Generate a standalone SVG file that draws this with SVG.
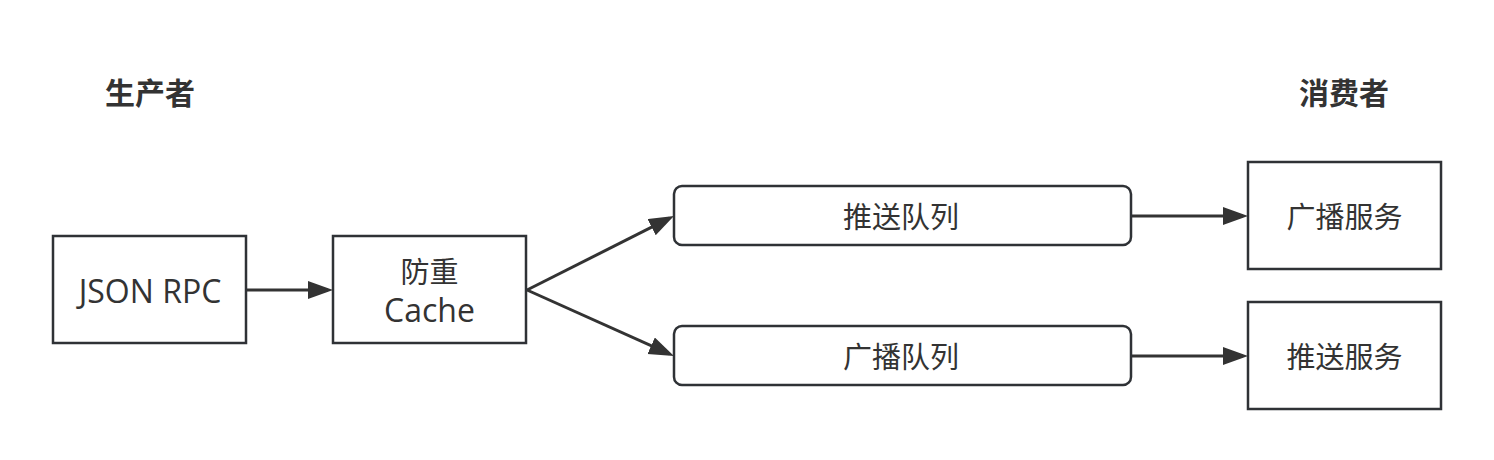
<svg xmlns="http://www.w3.org/2000/svg" width="1494" height="460" viewBox="0 0 1494 460">
<style>
.box{fill:#ffffff;stroke:#2f3236;stroke-width:2.5}
.t{font-family:"Open Sans","Noto Sans CJK SC",sans-serif;font-size:32px;fill:#333333;text-anchor:middle}
.z{font-family:"Noto Sans CJK SC",sans-serif;font-size:29px;fill:#333333;text-anchor:middle}
.title{font-family:"Noto Sans CJK SC",sans-serif;font-size:30px;font-weight:bold;fill:#333333;text-anchor:middle}
.c{fill:none;stroke:#333333;stroke-width:3}
</style>
<defs>
<marker id="ah" markerUnits="userSpaceOnUse" markerWidth="26" markerHeight="20" viewBox="0 0 26 20" refX="20" refY="9" orient="auto">
<path d="M0,0 L25,9 L0,18 z" fill="#333333"/>
</marker>
</defs>
<rect width="1494" height="460" fill="#ffffff"/>
<g id="title-producer"><text class="title" x="150" y="104">生产者</text></g>
<g id="title-consumer"><text class="title" x="1344" y="104">消费者</text></g>
<g id="connectors">
<path class="c" d="M246,290 L328,290" marker-end="url(#ah)"/>
<path class="c" d="M527,290 L669.5,218.2" marker-end="url(#ah)"/>
<path class="c" d="M527,290 L669.4,353.9" marker-end="url(#ah)"/>
<path class="c" d="M1131,216 L1243,216" marker-end="url(#ah)"/>
<path class="c" d="M1131,356 L1243,356" marker-end="url(#ah)"/>
</g>
<g id="json-rpc"><rect class="box" x="53" y="236" width="193" height="107"/><text class="t" x="150" y="303">JSON RPC</text></g>
<g id="cache"><rect class="box" x="333" y="236" width="193" height="107"/><text class="z" x="429.5" y="283">防重</text><text class="t" x="429.5" y="322">Cache</text></g>
<g id="push-queue"><rect class="box" x="674" y="186" width="457" height="59" rx="8"/><text class="z" x="901" y="228">推送队列</text></g>
<g id="broadcast-queue"><rect class="box" x="674" y="326" width="457" height="59" rx="8"/><text class="z" x="901" y="368">广播队列</text></g>
<g id="broadcast-service"><rect class="box" x="1248" y="162" width="193" height="107"/><text class="z" x="1344.5" y="228">广播服务</text></g>
<g id="push-service"><rect class="box" x="1248" y="302" width="193" height="107"/><text class="z" x="1344.5" y="368">推送服务</text></g>
</svg>
